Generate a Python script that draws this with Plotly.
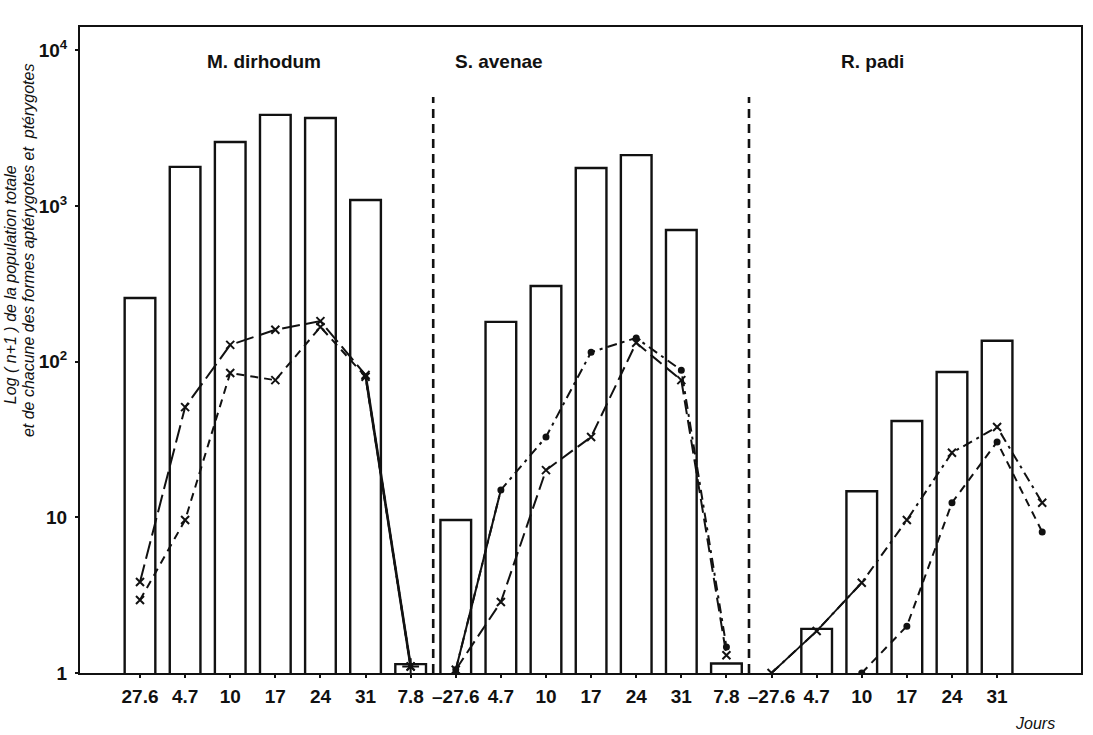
import plotly.graph_objects as go

# ---------------- data (values are n+1) ----------------
species = ["M. dirhodum", "S. avenae", "R. padi"]
dates = ["27.6", "4.7", "10", "17", "24", "31", "7.8"]

# total population (bars)
m_total = [256, 1780, 2570, 3840, 3670, 1090, 1.14]
s_total = [9.6, 180, 306, 1750, 2120, 700, 1.15]
r_total = [None, 1.92, 14.7, 41.5, 85.7, 136, None]

# the two forms (lines)
m_upper = [3.84, 51, 128, 160, 182, 82, 1.1]
m_lower = [2.94, 9.6, 84.5, 76, 167, 80, 1.1]
s_upper = [1.05, 15, 32.8, 115, 142, 88, 1.47]
s_lower = [1.05, 2.86, 20.1, 32.8, 132, 76, 1.3]
r_upper = [1.0, 1.86, 3.8, 9.6, 26, 38, 12.4]
r_lower = [None, None, 1.0, 2.0, 12.4, 30.5, 8.05]

totals = [m_total, s_total, r_total]
uppers = [m_upper, s_upper, r_upper]
lowers = [m_lower, s_lower, r_lower]

# ---------------- layout constants ----------------
n = len(dates)
FONT = "Liberation Sans, Arial, sans-serif"
BLACK = "#111111"
SEP_TOP = 5000
BAR_W = 0.68


def xs(k):
    return [k * n + i for i in range(n)]


fig = go.Figure()

# bars (hollow)
for k in range(len(species)):
    fig.add_trace(go.Bar(
        x=xs(k), y=totals[k], width=BAR_W,
        marker=dict(color="rgba(0,0,0,0)", line=dict(color=BLACK, width=2.4)),
        hoverinfo="skip"))

# line styles per species: (upper, lower)
styles = [
    (dict(dash="18px,6px"), "x-thin", dict(dash="8px,6px"), "x-thin"),
    (dict(dash="10px,5px,3px,5px"), "circle", dict(dash="14px,6px"), "x-thin"),
    (dict(dash="10px,5px,3px,5px"), "x-thin", dict(dash="8px,6px"), "circle"),
]

for k in range(len(species)):
    x = xs(k)
    ud, um, ld, lm = styles[k]
    for yv, d, sym in ((uppers[k], ud, um), (lowers[k], ld, lm)):
        fig.add_trace(go.Scatter(
            x=x, y=yv, mode="lines+markers",
            line=dict(color=BLACK, width=2, dash=d["dash"]),
            marker=dict(symbol=sym, size=8 if sym == "x-thin" else 5,
                        color=BLACK, line=dict(color=BLACK, width=2)),
            hoverinfo="skip"))

# solid segments seen in the picture
fig.add_trace(go.Scatter(x=xs(0)[5:7], y=m_upper[5:7], mode="lines",
                         line=dict(color=BLACK, width=2.6), hoverinfo="skip"))
fig.add_trace(go.Scatter(x=xs(0)[6:7], y=m_upper[6:7], mode="markers",
                         marker=dict(symbol="cross-thin", size=12,
                                     line=dict(color=BLACK, width=2)),
                         hoverinfo="skip"))
fig.add_trace(go.Scatter(x=xs(1)[0:2], y=s_upper[0:2], mode="lines",
                         line=dict(color=BLACK, width=2), hoverinfo="skip"))
fig.add_trace(go.Scatter(x=xs(2)[0:3], y=r_upper[0:3], mode="lines",
                         line=dict(color=BLACK, width=1.8), hoverinfo="skip"))

# dashed separators between species
for k in range(1, len(species)):
    b = k * n - 0.5
    fig.add_trace(go.Scatter(x=[b, b], y=[1, SEP_TOP], mode="lines",
                             line=dict(color=BLACK, width=2.6, dash="9px,6px"),
                             hoverinfo="skip"))

# x tick labels
tickvals, ticktext = [], []
for k in range(len(species)):
    for i, d in enumerate(dates):
        if k == len(species) - 1 and i == n - 1:
            continue
        tickvals.append(k * n + i)
        ticktext.append("\u201327.6" if (i == 0 and k > 0) else d)

fig.update_layout(
    width=1093, height=735,
    margin=dict(l=80, r=10, t=27, b=62),
    paper_bgcolor="white", plot_bgcolor="white",
    showlegend=False, barmode="overlay",
    font=dict(family=FONT, color=BLACK),
    xaxis=dict(range=[-1.33, 20.86], tickvals=tickvals, ticktext=ticktext,
               showline=True, linecolor=BLACK, linewidth=2, mirror=True,
               ticks="outside", ticklen=3, tickcolor=BLACK, tickwidth=2,
               showgrid=False, zeroline=False,
               tickfont=dict(family=FONT, size=19, color=BLACK, weight="bold"),
               ticklabelstandoff=2),
    yaxis=dict(type="log", range=[0, 4.149],
               tickvals=[1, 10, 100, 1000, 10000],
               ticktext=["1", "10", "10<sup>2</sup>", "10<sup>3</sup>", "10<sup>4</sup>"],
               showline=True, linecolor=BLACK, linewidth=2, mirror=True,
               ticks="outside", ticklen=3, tickcolor=BLACK, tickwidth=2,
               showgrid=False, zeroline=False,
               tickfont=dict(family=FONT, size=19, color=BLACK, weight="bold"),
               ticklabelstandoff=4),
)

# species titles
for name, px in zip(species, [264, 500, 874]):
    fig.add_annotation(text=name, xref="paper", yref="paper",
                       x=(px - 80) / 1003, y=(673 - 62) / 646,
                       showarrow=False, xanchor="center", yanchor="middle",
                       font=dict(family=FONT, size=19, color=BLACK, weight="bold"))

# y-axis title (two lines)
ylab1 = "Log ( n+1 ) de la population totale"
ylab2 = "et de chacune des formes aptérygotes et  ptérygotes"
fig.add_annotation(text="<i>" + ylab1 + "</i>", xref="paper", yref="paper",
                   x=(11 - 80) / 1003, y=(673 - 285) / 646, textangle=-90,
                   showarrow=False, xanchor="center", yanchor="middle",
                   font=dict(family=FONT, size=16, color=BLACK))
fig.add_annotation(text="<i>" + ylab2 + "</i>", xref="paper", yref="paper",
                   x=(28 - 80) / 1003, y=(673 - 250) / 646, textangle=-90,
                   showarrow=False, xanchor="center", yanchor="middle",
                   font=dict(family=FONT, size=16, color=BLACK))

fig.add_annotation(text="<i>Jours</i>", xref="paper", yref="paper",
                   x=(1037 - 80) / 1003, y=(673 - 723) / 646,
                   showarrow=False, xanchor="center", yanchor="middle",
                   font=dict(family=FONT, size=16, color=BLACK))

fig.write_html("out.html")
